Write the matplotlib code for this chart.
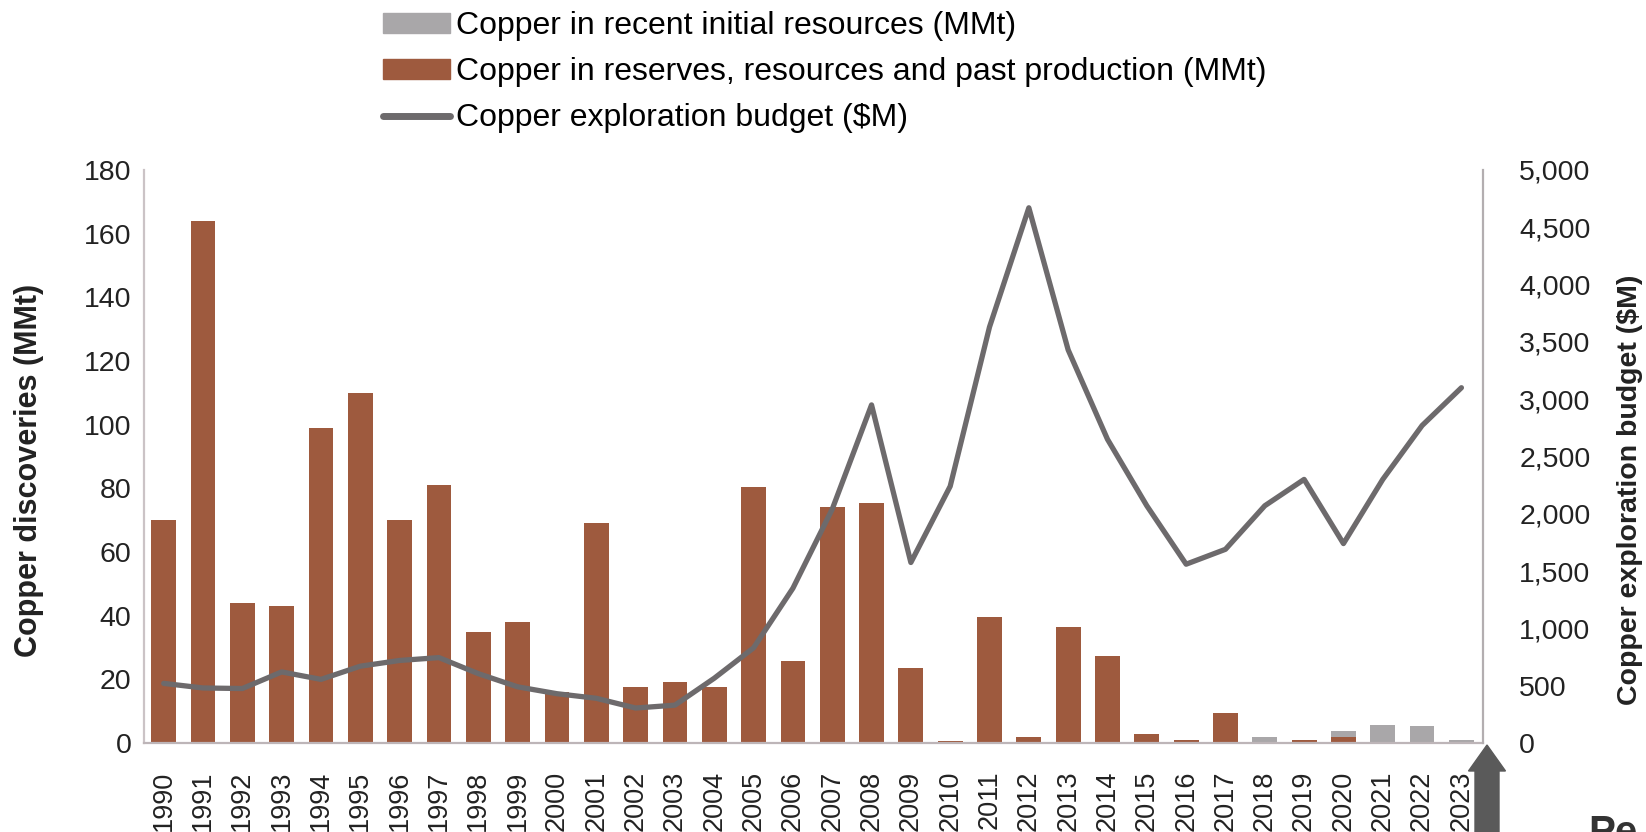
import matplotlib
matplotlib.use("Agg")
import matplotlib.pyplot as plt
import numpy as np
from matplotlib.patches import FancyArrow, Patch
from matplotlib.lines import Line2D
from matplotlib.ticker import FuncFormatter

# data
years = [str(y) for y in range(1990, 2024)]
reserves_mmt = [70, 164, 44, 43, 99, 110, 70, 81, 35, 38,
                16, 69, 17.6, 19.3, 17.6, 80.5, 25.6, 74, 75.5, 23.6,
                0.6, 39.5, 1.8, 36.3, 27.3, 2.7, 1.0, 9.5, 0, 1.0,
                1.8, 0.3, 0, 0]
recent_mmt = [0] * 28 + [2.0, 0, 2.1, 5.3, 5.4, 1.0]
budget_musd = [520, 480, 475, 620, 555, 670, 720, 745, 605, 490,
               430, 390, 305, 330, 565, 830, 1350, 2040, 2950, 1575,
               2240, 3630, 4670, 3430, 2650, 2070, 1560, 1690, 2070, 2300,
               1740, 2300, 2770, 3100]

brown = "#9E5A3E"
grey_bar = "#A9A7A9"
line_col = "#6D6A6C"

plt.rcParams["font.family"] = ["Liberation Sans", "DejaVu Sans"]

fig = plt.figure(figsize=(16.46, 8.32), dpi=100)
ax = fig.add_axes([0.0875, 0.107, 0.8135, 0.6887])
ax2 = ax.twinx()

x = np.arange(len(years))
ax.bar(x, reserves_mmt, width=0.63, color=brown, zorder=2)
ax.bar(x, recent_mmt, width=0.63, bottom=reserves_mmt, color=grey_bar, zorder=2)
ax2.plot(x, budget_musd, color=line_col, lw=3.8, solid_joinstyle="round",
         solid_capstyle="round", zorder=3)

ax.set_xlim(-0.5, len(years) - 0.45)
ax.set_ylim(0, 180)
ax2.set_ylim(0, 5000)
ax.set_yticks(np.arange(0, 181, 20))
ax2.set_yticks(np.arange(0, 5001, 500))
ax2.yaxis.set_major_formatter(FuncFormatter(lambda v, p: f"{int(v):,}"))

ax.set_xticks(x)
ax.set_xticklabels(years, rotation=90, fontsize=19.5, color="#222222")
ax.tick_params(axis="x", length=0, pad=20)
ax.tick_params(axis="y", length=0, pad=9, labelsize=20.5, labelcolor="#222222")
ax2.tick_params(axis="y", length=0, pad=26, labelsize=20.5, labelcolor="#222222")

for a in (ax, ax2):
    a.spines["top"].set_visible(False)
ax.spines["left"].set_color("#CBC3C6")
ax.spines["bottom"].set_color("#BDB5B8")
ax.spines["right"].set_visible(False)
ax2.spines["left"].set_visible(False)
ax2.spines["bottom"].set_visible(False)
ax2.spines["right"].set_color("#B3AEB0")
for s in ("left", "bottom"):
    ax.spines[s].set_linewidth(1.6)
ax2.spines["right"].set_linewidth(1.6)

ax.set_ylabel("Copper discoveries (MMt)", fontsize=22, fontweight="bold",
              color="#222222")
ax.yaxis.set_label_coords(-0.075, 0.476)
ax2.set_ylabel("Copper exploration budget ($M)", fontsize=20.5, fontweight="bold",
               color="#222222")
ax2.yaxis.set_label_coords(1.1, 0.441)

handles = [Patch(color=grey_bar), Patch(color=brown),
           Line2D([], [], color=line_col, lw=5, solid_capstyle="round")]
labels = ["Copper in recent initial resources (MMt)",
          "Copper in reserves, resources and past production (MMt)",
          "Copper exploration budget ($M)"]
fig.legend(handles, labels, loc="upper left", bbox_to_anchor=(0.229, 0.994),
           frameon=False, fontsize=23, handlelength=2.1, handleheight=0.55,
           handletextpad=0.18, labelspacing=0.5, borderaxespad=0,
           borderpad=0.2)

# arrow and cut-off heading at the bottom right
fig.add_artist(FancyArrow(14.87, -0.2, 0, 1.07, width=0.24, head_width=0.37,
                          head_length=0.26, length_includes_head=True,
                          color="#5A5A5A", transform=fig.dpi_scale_trans))
fig.text(0.965, 0.022, "Pe", fontsize=29, fontweight="bold", color="#333333",
         va="top", ha="left")

fig.savefig("out.png", dpi=100)
